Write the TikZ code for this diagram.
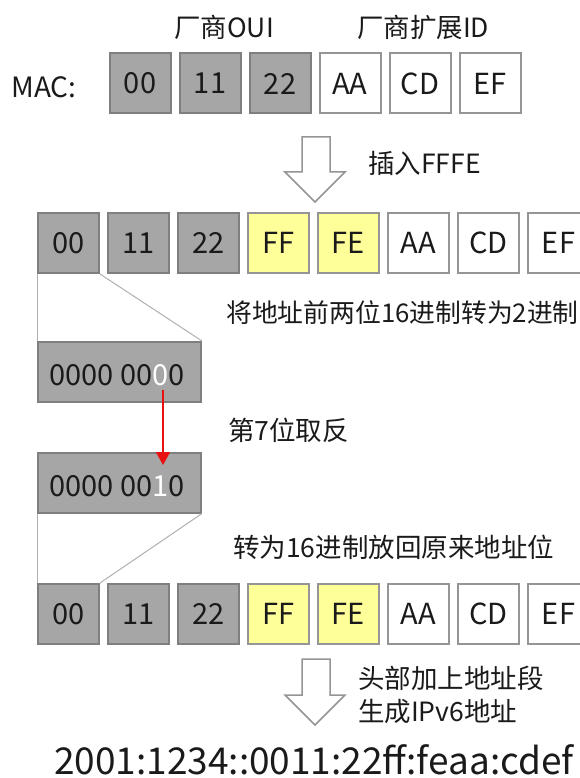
\documentclass[tikz,border=0pt]{standalone}
\usepackage{fontspec}
\setmainfont{Noto Sans CJK SC}
\usetikzlibrary{arrows.meta}
\definecolor{boxgray}{HTML}{A6A6A6}
\definecolor{edgedark}{HTML}{7F7F7F}
\definecolor{edgegray}{HTML}{959595}
\definecolor{boxyellow}{HTML}{FFFF99}
\definecolor{ink}{HTML}{1A1A1A}
\definecolor{thinline}{HTML}{B0B0B0}
\definecolor{flipred}{HTML}{E81010}
\begin{document}
\begin{tikzpicture}[x=1pt,y=-1pt,
  cell/.style={draw=edgegray, line width=2pt, minimum width=61pt, minimum height=60pt,
    inner sep=0pt, font=\fontsize{29}{32}\selectfont, text=ink},
  oui/.style={cell, fill=boxgray, draw=edgedark},
  ins/.style={cell, fill=boxyellow},
  ext/.style={cell, fill=white},
  binbox/.style={cell, fill=boxgray, draw=edgedark, minimum width=163pt},
  bintext/.style={font=\fontsize{29}{32}\selectfont, text=ink, inner sep=0pt, anchor=west},
  lbl/.style={font=\fontsize{26.5}{33}\selectfont, text=ink, inner sep=0pt},
  zoomline/.style={draw=thinline, line width=1pt},
  hollow/.style={draw=edgegray, line width=1.5pt, fill=white, line join=miter},
  fliparrow/.style={draw=flipred, line width=1.5pt, -{Triangle[width=14pt,length=13pt]}}]
\useasboundingbox (0,0) rectangle (580,778);
\clip (0,0) rectangle (580,778);

% headings
\node[lbl] (houi) at (224,27) {厂商OUI};
\node[lbl] (hext) at (423,27) {厂商扩展ID};
\node[lbl, font=\fontsize{28}{33}\selectfont] (mac) at (44,87) {MAC:};

% MAC row
\node[oui] (m1) at (140,83.5) {00};
\node[oui] (m2) at (210,83.5) {11};
\node[oui] (m3) at (280,83.5) {22};
\node[ext] (m4) at (350,83.5) {AA};
\node[ext] (m5) at (420,83.5) {CD};
\node[ext] (m6) at (490,83.5) {EF};

% hollow arrow 1
\draw[hollow] (302,137) -- (330,137) -- (330,172) -- (345,172) -- (315,202)
  -- (285,172) -- (302,172) -- cycle;
\node[lbl, anchor=west] (tins) at (368,163) {插入FFFE};

% row 2
\node[oui] (a1) at (68.5,243) {00};
\node[oui] (a2) at (138.5,243) {11};
\node[oui] (a3) at (208.5,243) {22};
\node[ins] (a4) at (278.5,243) {FF};
\node[ins] (a5) at (348.5,243) {FE};
\node[ext] (a6) at (418.5,243) {AA};
\node[ext] (a7) at (488.5,243) {CD};
\node[ext] (a8) at (558.5,243) {EF};

\node[lbl, anchor=west, font=\fontsize{25.8}{33}\selectfont] (tbin) at (226,313) {将地址前两位16进制转为2进制};

% binary boxes
\node[binbox] (b1) at (119.5,372) {};
\node[bintext] (b1t) at (49,375) {0000 00\textcolor{white}{0}0};
\node[binbox] (b2) at (119.5,482.5) {};
\node[bintext] (b2t) at (49,486) {0000 00\textcolor{white}{1}0};

\draw[zoomline] (a1.south west) -- (b1.north west);
\draw[zoomline] (a1.south east) -- (b1.north east);

\coordinate (f1) at (163,390);
\coordinate (f2) at (163,465);
\draw[fliparrow] (f1) -- (f2);
\node[lbl, anchor=west] (tflip) at (228,430) {第7位取反};

\node[lbl, anchor=west] (tback) at (233,547) {转为16进制放回原来地址位};

% row 3
\node[oui] (c1) at (68.5,614) {00};
\node[oui] (c2) at (138.5,614) {11};
\node[oui] (c3) at (208.5,614) {22};
\node[ins] (c4) at (278.5,614) {FF};
\node[ins] (c5) at (348.5,614) {FE};
\node[ext] (c6) at (418.5,614) {AA};
\node[ext] (c7) at (488.5,614) {CD};
\node[ext] (c8) at (558.5,614) {EF};

\draw[zoomline] (b2.south west) -- (c1.north west);
\draw[zoomline] (b2.south east) -- (c1.north east);

% hollow arrow 2
\draw[hollow] (302,659) -- (330,659) -- (330,695) -- (345,695) -- (315,725)
  -- (285,695) -- (302,695) -- cycle;
\node[lbl, anchor=north west, align=left] (tpre) at (358,666) {头部加上地址段\\生成IPv6地址};

% result
\node[lbl, font=\fontsize{37}{40}\selectfont] (ipv6) at (314,760) {2001:1234::0011:22ff:feaa:cdef};
\end{tikzpicture}
\end{document}
